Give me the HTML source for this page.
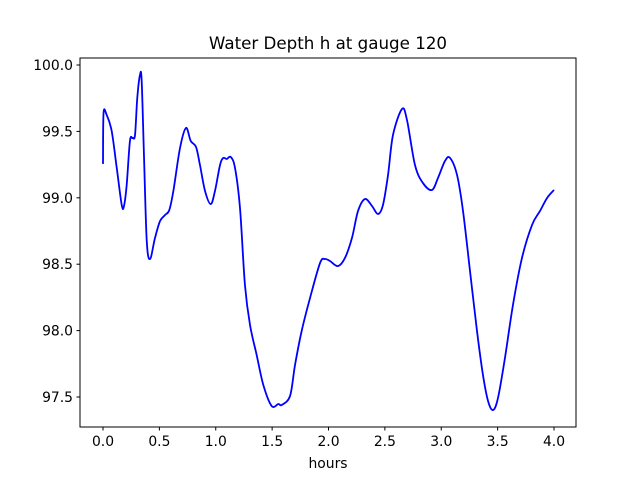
<!DOCTYPE html>
<html><head><meta charset="utf-8"><style>
body{margin:0;background:#fff;}
svg text{font-family:"DejaVu Sans","Liberation Sans",sans-serif;fill:#000;}
</style></head><body>
<svg width="640" height="480" xmlns="http://www.w3.org/2000/svg">
<rect width="640" height="480" fill="#fff"/>
<text x="328" y="49" font-size="16.7" text-anchor="middle">Water Depth h at gauge 120</text>
<g id="ticks"></g>
<path id="line" fill="none" stroke="#0000ff" stroke-width="1.8"/>
<rect x="80" y="58" width="496" height="369" fill="none" stroke="#000" stroke-width="1"/>
<text x="328" y="468" font-size="13.9" text-anchor="middle">hours</text>
</svg>
<script>
const hours = [0,0.005,0.033,0.077,0.122,0.166,0.186,0.210,0.239,0.263,0.284,0.304,0.328,0.343,0.364,0.388,0.417,0.461,0.506,0.550,0.588,0.624,0.683,0.736,0.778,0.825,0.860,0.905,0.955,0.993,1.038,1.067,1.097,1.133,1.171,1.215,1.259,1.304,1.363,1.422,1.496,1.555,1.585,1.659,1.703,1.762,1.836,1.925,1.969,2.013,2.084,2.146,2.208,2.262,2.324,2.386,2.439,2.483,2.528,2.572,2.652,2.696,2.767,2.838,2.918,2.971,3.033,3.078,3.140,3.193,3.255,3.317,3.370,3.415,3.459,3.503,3.565,3.636,3.716,3.805,3.876,3.938,4.0];
const depth = [99.255,99.639,99.623,99.503,99.224,98.946,98.938,99.096,99.428,99.450,99.473,99.752,99.925,99.880,99.300,98.675,98.539,98.697,98.825,98.870,98.908,99.051,99.375,99.526,99.428,99.383,99.247,99.051,98.953,99.051,99.247,99.300,99.292,99.307,99.224,98.923,98.343,98.042,97.816,97.590,97.432,97.447,97.440,97.508,97.741,97.997,98.245,98.509,98.539,98.524,98.486,98.547,98.697,98.901,98.991,98.938,98.878,98.946,99.172,99.473,99.669,99.586,99.247,99.111,99.059,99.149,99.277,99.300,99.172,98.901,98.449,97.997,97.666,97.470,97.402,97.492,97.794,98.193,98.547,98.795,98.901,98.998,99.059];
const xTicks = [0,0.5,1,1.5,2,2.5,3,3.5,4];
const yTicks = [97.5,98,98.5,99,99.5,100];
const xs = h => 103 + h*112.75;
const ys = v => 65 + (100 - v)*132.8;
const NS = "http://www.w3.org/2000/svg";
const g = document.getElementById('ticks');
xTicks.forEach(t=>{
  const l=document.createElementNS(NS,'line');
  l.setAttribute('x1',xs(t));l.setAttribute('x2',xs(t));l.setAttribute('y1',427);l.setAttribute('y2',430.5);l.setAttribute('stroke','#000');
  
  
  g.appendChild(l);
  const tx=document.createElementNS(NS,'text');
  tx.setAttribute('x',xs(t));tx.setAttribute('y',446);tx.setAttribute('font-size','13.9');tx.setAttribute('text-anchor','middle');
  tx.textContent=t.toFixed(1);
  
  
  g.appendChild(tx);
});
yTicks.forEach(t=>{
  const l=document.createElementNS(NS,'line');
  l.setAttribute('x1',76.5);l.setAttribute('x2',80);l.setAttribute('y1',ys(t));l.setAttribute('y2',ys(t));l.setAttribute('stroke','#000');
  
  
  g.appendChild(l);
  const tx=document.createElementNS(NS,'text');
  tx.setAttribute('x',73);tx.setAttribute('y',ys(t)+5);tx.setAttribute('font-size','13.9');tx.setAttribute('text-anchor','end');
  tx.textContent=t.toFixed(1);
  
  
  g.appendChild(tx);
});
const P = hours.map((h,i)=>[xs(h),ys(depth[i])]);
let d = `M${P[0][0]},${P[0][1]}`;
for(let i=0;i<P.length-1;i++){
  const p0=P[Math.max(0,i-1)],p1=P[i],p2=P[i+1],p3=P[Math.min(P.length-1,i+2)];
  const c1=[p1[0]+(p2[0]-p0[0])/6,p1[1]+(p2[1]-p0[1])/6];
  const c2=[p2[0]-(p3[0]-p1[0])/6,p2[1]-(p3[1]-p1[1])/6];
  d+=` C${c1[0]},${c1[1]} ${c2[0]},${c2[1]} ${p2[0]},${p2[1]}`;
}
document.getElementById('line').setAttribute('d',d);
</script>
</body></html>
